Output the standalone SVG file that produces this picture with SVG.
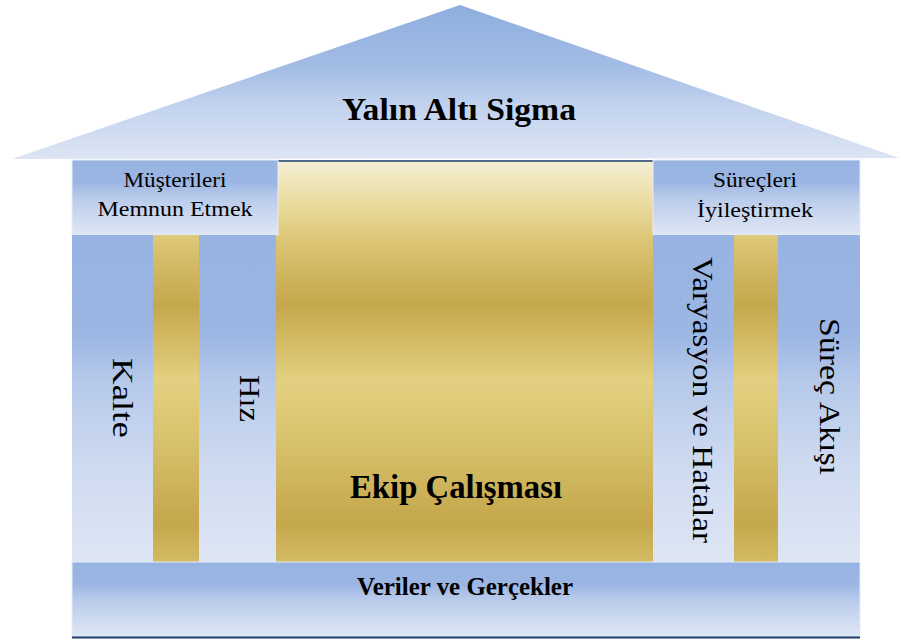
<svg xmlns="http://www.w3.org/2000/svg" width="899" height="644" viewBox="0 0 899 644">
  <style>
    .blue { fill: url(#pillarGrad); }
    .box { fill: url(#boxGrad); stroke: #E6ECF7; stroke-width: 1; }
    .gold { fill: url(#goldGrad); }
    .t { fill: #000; text-anchor: middle; }
  </style>
  <defs>
    <!-- roof: blue fading to pale toward the eave -->
    <linearGradient id="roofGrad" x1="0" y1="0" x2="0" y2="1">
      <stop offset="0" stop-color="#8FAEDE"/>
      <stop offset="0.4" stop-color="#A2BCE5"/>
      <stop offset="0.65" stop-color="#C2D2EE"/>
      <stop offset="1" stop-color="#DDE5F3"/>
    </linearGradient>
    <!-- header boxes and base bar -->
    <linearGradient id="boxGrad" x1="0" y1="0" x2="0" y2="1">
      <stop offset="0" stop-color="#97B3E1"/>
      <stop offset="0.3" stop-color="#9BB6E3"/>
      <stop offset="0.5" stop-color="#B9CBEB"/>
      <stop offset="1" stop-color="#DFE7F4"/>
    </linearGradient>
    <!-- blue columns -->
    <linearGradient id="pillarGrad" x1="0" y1="0" x2="0" y2="1">
      <stop offset="0" stop-color="#97B3E1"/>
      <stop offset="0.3" stop-color="#9BB6E3"/>
      <stop offset="0.45" stop-color="#B6C9EA"/>
      <stop offset="0.7" stop-color="#CEDAF0"/>
      <stop offset="1" stop-color="#DEE6F4"/>
    </linearGradient>
    <!-- metallic gold, shared across all gold parts -->
    <linearGradient id="goldGrad" gradientUnits="userSpaceOnUse" x1="0" y1="160" x2="0" y2="562">
      <stop offset="0" stop-color="#F5EFD6"/>
      <stop offset="0.1" stop-color="#EBDDA2"/>
      <stop offset="0.2" stop-color="#DCC576"/>
      <stop offset="0.36" stop-color="#C5A74C"/>
      <stop offset="0.55" stop-color="#E3D080"/>
      <stop offset="0.72" stop-color="#D6BF69"/>
      <stop offset="0.9" stop-color="#C5A74C"/>
      <stop offset="1" stop-color="#D3BA63"/>
    </linearGradient>
  </defs>

  <!-- roof -->
  <g id="roof">
    <polygon points="12,159 460,5 899,158" fill="url(#roofGrad)"/>
    <text class="t" style="font-family:'Liberation Serif',serif;font-weight:bold;font-size:32.5px" x="459" y="120" textLength="234" lengthAdjust="spacingAndGlyphs">Yalın Altı Sigma</text>
  </g>

  <!-- central panel -->
  <g id="teamwork">
    <rect class="gold" x="276" y="160" width="377" height="402"/>
    <rect x="278" y="160" width="375" height="2" fill="#50698A"/>
    <text class="t" style="font-family:'Liberation Serif',serif;font-weight:bold;font-size:33px" x="456" y="498" textLength="212" lengthAdjust="spacingAndGlyphs">Ekip Çalışması</text>
  </g>

  <!-- left wing header -->
  <g id="customers">
    <rect class="box" x="72" y="160" width="206" height="75"/>
    <text class="t" style="font-family:'Liberation Serif',serif;font-size:22px" x="175" y="187" textLength="103" lengthAdjust="spacingAndGlyphs">Müşterileri</text>
    <text class="t" style="font-family:'Liberation Serif',serif;font-size:22px" x="175" y="216" textLength="155" lengthAdjust="spacingAndGlyphs">Memnun Etmek</text>
  </g>

  <!-- right wing header -->
  <g id="processes">
    <rect class="box" x="653" y="160" width="207" height="75"/>
    <text class="t" style="font-family:'Liberation Serif',serif;font-size:22px" x="755" y="187" textLength="84" lengthAdjust="spacingAndGlyphs">Süreçleri</text>
    <text class="t" style="font-family:'Liberation Serif',serif;font-size:22px" x="755" y="217" textLength="116" lengthAdjust="spacingAndGlyphs">İyileştirmek</text>
  </g>

  <!-- left columns -->
  <g id="quality">
    <rect class="blue" x="72" y="235" width="81" height="327"/>
    <text class="t" style="font-family:'Liberation Serif',serif;font-size:30px" transform="translate(113,398) rotate(90)" x="0" y="0" textLength="80" lengthAdjust="spacingAndGlyphs">Kalte</text>
  </g>
  <g id="left-gold">
    <rect class="gold" x="153" y="235" width="46" height="327"/>
  </g>
  <g id="speed">
    <rect class="blue" x="199" y="235" width="77" height="327"/>
    <text class="t" style="font-family:'Liberation Serif',serif;font-size:30px" transform="translate(240,398.5) rotate(90)" x="0" y="0" textLength="47" lengthAdjust="spacingAndGlyphs">Hız</text>
  </g>

  <!-- right columns -->
  <g id="variation">
    <rect class="blue" x="653" y="235" width="81" height="327"/>
    <text class="t" style="font-family:'Liberation Serif',serif;font-size:30px" transform="translate(693,400) rotate(90)" x="0" y="0" textLength="286" lengthAdjust="spacingAndGlyphs">Varyasyon ve Hatalar</text>
  </g>
  <g id="right-gold">
    <rect class="gold" x="734" y="235" width="44" height="327"/>
  </g>
  <g id="flow">
    <rect class="blue" x="778" y="235" width="82" height="327"/>
    <text class="t" style="font-family:'Liberation Serif',serif;font-size:30px" transform="translate(820,396.5) rotate(90)" x="0" y="0" textLength="157" lengthAdjust="spacingAndGlyphs">Süreç Akışı</text>
  </g>

  <!-- base -->
  <g id="data">
    <rect class="box" x="72" y="562" width="788" height="75"/>
    <rect x="72" y="636.5" width="788" height="2" fill="#1F3D6B"/>
    <text class="t" style="font-family:'Liberation Serif',serif;font-weight:bold;font-size:25px" x="465" y="595" textLength="216" lengthAdjust="spacingAndGlyphs">Veriler ve Gerçekler</text>
  </g>

  <g id="connectors"/>
</svg>
